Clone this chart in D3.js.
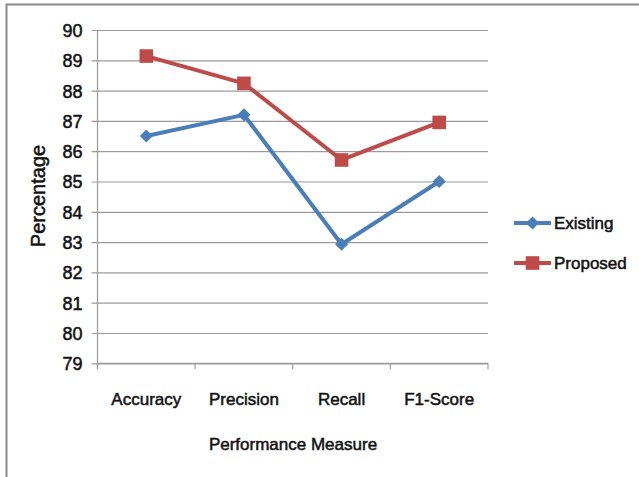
<!DOCTYPE html>
<html>
<head>
<meta charset="utf-8">
<script src="https://cdn.jsdelivr.net/npm/d3@7/dist/d3.min.js"></script>
<style>
  html, body { margin: 0; padding: 0; background: #fff; }
  svg text { font-family: "Liberation Sans", Arial, sans-serif; fill: #111; stroke: #111; stroke-width: 0.5px; }
</style>
</head>
<body>
<svg id="chart" width="639" height="477"></svg>
<script>
// Performance measures compared between the existing and proposed methods
const categories = ["Accuracy", "Precision", "Recall", "F1-Score"];
const existing = [86.5, 87.2, 82.93, 85.0];
const proposed = [89.14, 88.24, 85.71, 86.95];
const yTicks = [79, 80, 81, 82, 83, 84, 85, 86, 87, 88, 89, 90];
const seriesNames = ["Existing", "Proposed"];
const seriesColors = ["#4A7EBB", "#BE4B48"];

const svg = d3.select("#chart");

// outer chart frame (continues past the right/bottom edges)
svg.append("path")
  .attr("d", "M6.5,700 V4.5 H700")
  .attr("fill", "none")
  .attr("stroke", "#8a8a8a")
  .attr("stroke-width", 2);

const plot = { left: 97.5, right: 488, top: 30, bottom: 363.3 };

const x = d3.scaleBand().domain(categories).range([plot.left, plot.right]);
const y = d3.scaleLinear().domain([79, 90]).range([plot.bottom, plot.top]);

// horizontal gridlines with left tick marks
const yAxis = d3.axisLeft(y).tickValues(yTicks).tickSize(-(plot.right - plot.left)).tickPadding(0).tickFormat(d3.format("d"));
const gy = svg.append("g").attr("transform", `translate(${plot.left},0)`).call(yAxis);
gy.select(".domain").remove();
gy.selectAll(".tick line")
  .attr("x1", -6)
  .attr("stroke", "#9a9a9a")
  .attr("stroke-width", 1.2);
gy.selectAll(".tick text")
  .attr("x", -15)
  .attr("dy", "0.36em")
  .style("font-size", "18px")
  .attr("fill", "#111");

// vertical axis line
svg.append("line")
  .attr("x1", plot.left).attr("x2", plot.left)
  .attr("y1", plot.top).attr("y2", plot.bottom + 6)
  .attr("stroke", "#9a9a9a").attr("stroke-width", 1.2);

// category axis
const xAxis = d3.axisBottom(x).tickSize(0).tickPadding(0);
const gx = svg.append("g").attr("transform", `translate(0,${plot.bottom})`).call(xAxis);
gx.select(".domain").remove();
gx.selectAll(".tick text")
  .attr("y", 30)
  .style("font-size", "17px")
  .attr("fill", "#111");

// band boundary ticks along the bottom
const bounds = categories.map(c => x(c)).concat([plot.right]);
svg.append("g").selectAll("line").data(bounds).join("line")
  .attr("x1", d => d).attr("x2", d => d)
  .attr("y1", plot.bottom).attr("y2", plot.bottom + 6)
  .attr("stroke", "#9a9a9a").attr("stroke-width", 1.2);
svg.append("line")
  .attr("x1", plot.left).attr("x2", plot.right)
  .attr("y1", plot.bottom).attr("y2", plot.bottom)
  .attr("stroke", "#9a9a9a").attr("stroke-width", 1.2);

// axis titles
svg.append("text")
  .attr("transform", `translate(45,196) rotate(-90)`)
  .attr("text-anchor", "middle")
  .style("font-size", "20px")
  .text("Percentage");

svg.append("text")
  .attr("x", 293).attr("y", 450)
  .attr("text-anchor", "middle")
  .style("font-size", "17px")
  .text("Performance Measure");

const cx = c => x(c) + x.bandwidth() / 2;
const line = d3.line().x((d, i) => cx(categories[i])).y(d => y(d));

const diamond = d3.symbol().type(d3.symbolDiamond2).size(110);
const square = d3.symbol().type(d3.symbolSquare).size(185);

const allSeries = [existing, proposed];
const shapes = [diamond, square];

allSeries.forEach((vals, s) => {
  svg.append("path")
    .datum(vals)
    .attr("d", line)
    .attr("fill", "none")
    .attr("stroke", seriesColors[s])
    .attr("stroke-width", 4)
    .attr("stroke-linejoin", "round");
  svg.append("g").selectAll("path").data(vals).join("path")
    .attr("transform", (d, i) => `translate(${cx(categories[i])},${y(d)})`)
    .attr("d", shapes[s]())
    .attr("fill", seriesColors[s]);
});

// legend
const legendY = [223, 263];
seriesNames.forEach((name, s) => {
  const g = svg.append("g").attr("transform", `translate(514,${legendY[s]})`);
  g.append("line").attr("x1", 0).attr("x2", 37).attr("y1", 0).attr("y2", 0)
    .attr("stroke", seriesColors[s]).attr("stroke-width", 4);
  g.append("path").attr("transform", "translate(18.5,0)").attr("d", shapes[s]()).attr("fill", seriesColors[s]);
  g.append("text").attr("x", 40).attr("dy", "0.36em")
    .style("font-size", "17px")
    .text(name);
});
</script>
</body>
</html>
